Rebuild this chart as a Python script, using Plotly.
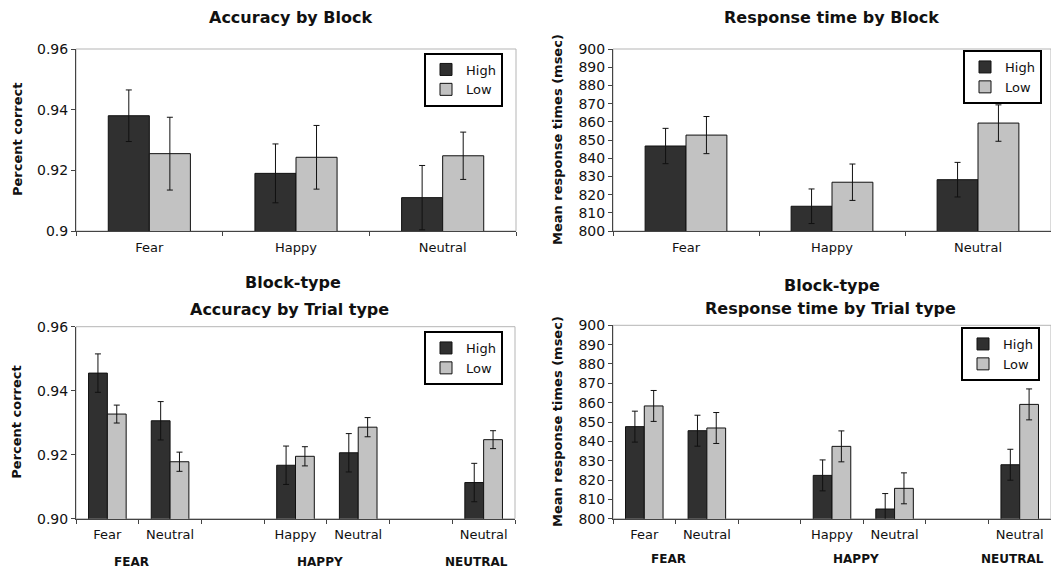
import plotly.graph_objects as go

# ---------------- data ----------------
block_categories = ["Fear", "Happy", "Neutral"]

acc_block_high = [0.938, 0.919, 0.911]
acc_block_low = [0.9255, 0.9243, 0.9248]
acc_block_high_err = [0.0085, 0.0097, 0.0106]
acc_block_low_err = [0.0120, 0.0105, 0.0078]

rt_block_high = [846.7, 813.6, 828.2]
rt_block_low = [852.7, 826.8, 859.3]
rt_block_high_err = [9.7, 9.5, 9.5]
rt_block_low_err = [10.2, 10.0, 10.0]

trial_block = ["FEAR", "FEAR", "HAPPY", "HAPPY", "NEUTRAL"]
trial_type = ["Fear", "Neutral", "Happy", "Neutral", "Neutral"]

acc_trial_high = [0.9455, 0.9306, 0.9167, 0.9206, 0.9113]
acc_trial_low = [0.9327, 0.9178, 0.9195, 0.9286, 0.9247]
acc_trial_high_err = [0.0060, 0.0060, 0.0060, 0.0060, 0.0060]
acc_trial_low_err = [0.0028, 0.0030, 0.0030, 0.0030, 0.0028]

rt_trial_high = [847.6, 845.5, 822.4, 805.0, 827.9]
rt_trial_low = [858.3, 846.9, 837.4, 815.7, 859.1]
rt_trial_high_err = [8.0, 8.0, 8.0, 8.0, 8.0]
rt_trial_low_err = [8.0, 8.0, 8.0, 8.0, 8.0]

series_names = ["High", "Low"]

# ---------------- styles ----------------
FONT = "DejaVu Sans"
TXT = "#111111"
AXIS = "#444444"
FRAME = "#b5b5b5"
C_HIGH = "#303030"
C_LOW = "#c2c2c2"

# slots for trial-type panels (with empty spacer slot between block groups)
slots, slot_labels = [], []
for b in dict.fromkeys(trial_block):
    if slots:
        slots.append("gap-" + b)
        slot_labels.append("")
    for bt, tt in zip(trial_block, trial_type):
        if bt == b:
            slots.append(bt + "|" + tt)
            slot_labels.append(tt)
trial_keys = [b + "|" + t for b, t in zip(trial_block, trial_type)]

fig = go.Figure()


def add_pair(x, hi, lo, hi_err, lo_err, xa, ya, leg, w):
    for name, vals, errs, col, off in [
        (series_names[0], hi, hi_err, C_HIGH, -w),
        (series_names[1], lo, lo_err, C_LOW, 0.0),
    ]:
        fig.add_trace(go.Bar(
            x=x, y=vals, name=name, xaxis=xa, yaxis=ya, legend=leg,
            width=w, offset=off,
            marker=dict(color=col, line=dict(color="#111111", width=1)),
            error_y=dict(type="data", array=errs, color="#111111",
                         thickness=1, width=3),
        ))


add_pair(block_categories, acc_block_high, acc_block_low,
         acc_block_high_err, acc_block_low_err, "x", "y", "legend", 0.28)
add_pair(block_categories, rt_block_high, rt_block_low,
         rt_block_high_err, rt_block_low_err, "x2", "y2", "legend2", 0.28)
add_pair(trial_keys, acc_trial_high, acc_trial_low,
         acc_trial_high_err, acc_trial_low_err, "x3", "y3", "legend3", 0.30)
add_pair(trial_keys, rt_trial_high, rt_trial_low,
         rt_trial_high_err, rt_trial_low_err, "x4", "y4", "legend4", 0.30)

W, H = 1051, 570
px = lambda v: v / W
py = lambda v: 1 - v / H

dom = {
    1: ([px(76), px(516)], [py(231), py(49)]),
    2: ([px(613), 1.0], [py(231), py(49)]),
    3: ([px(76), px(515)], [py(518.7), py(326.7)]),
    4: ([px(613), 1.0], [py(518.7), py(325.3)]),
}

xbase = dict(type="category", showline=True, linecolor=AXIS, linewidth=1,
             ticks="outside", ticklen=4, tickcolor=AXIS, tickson="boundaries",
             showgrid=False, zeroline=False, fixedrange=True, automargin=False,
             ticklabelstandoff=4,
             tickfont=dict(family=FONT, size=13, color=TXT))
ybase = dict(showline=True, linecolor=AXIS, linewidth=1, ticks="outside",
             ticklen=4, tickcolor=AXIS, showgrid=False, zeroline=False,
             fixedrange=True, automargin=False,
             tickfont=dict(family=FONT, size=14, color=TXT))

layout = dict(
    template="none",
    width=W, height=H, margin=dict(l=0, r=0, t=0, b=0, pad=0),
    autosize=False,
    paper_bgcolor="white", plot_bgcolor="white", barmode="overlay",
    font=dict(family=FONT, color=TXT),
)
for i in range(1, 5):
    sx = "" if i == 1 else str(i)
    xd, yd = dom[i]
    xa = dict(xbase, domain=xd, anchor="y" + sx)
    ya = dict(ybase, domain=yd, anchor="x" + sx)
    if i in (1, 2):
        xa.update(categoryarray=block_categories, categoryorder="array")
    else:
        xa.update(categoryarray=slots, categoryorder="array",
                  tickmode="array", tickvals=slots, ticktext=slot_labels,
                  range=[-0.5, len(slots) - 0.5])
    if i in (1, 3):
        ya.update(range=[0.9, 0.96], dtick=0.02, tick0=0.9)
        if i == 3:
            ya.update(tickformat=".2f")
    else:
        ya.update(range=[800, 900], dtick=10, tick0=800)
    layout["xaxis" + sx] = xa
    layout["yaxis" + sx] = ya

leg_style = dict(bgcolor="white", bordercolor="#000000", borderwidth=2,
                 font=dict(family=FONT, size=13, color=TXT),
                 xanchor="right", yanchor="middle", itemwidth=30,
                 tracegroupgap=0)
layout["legend"] = dict(leg_style, x=px(503), y=py(79.5))
layout["legend2"] = dict(leg_style, x=px(1042), y=py(77))
layout["legend3"] = dict(leg_style, x=px(503), y=py(358))
layout["legend4"] = dict(leg_style, x=px(1040), y=py(354))

fig.update_layout(**layout)

# frame (light gray box) around each plot area
for i in range(1, 5):
    sx = "" if i == 1 else str(i)
    fig.add_shape(type="rect", xref="x" + sx + " domain", yref="y" + sx + " domain",
                  x0=0, x1=1, y0=0, y1=1, line=dict(color=FRAME, width=1),
                  layer="below")

title_font = dict(family=FONT, size=16, color=TXT)
titles = [
    ("<b>Accuracy by Block</b>", 291, 18),
    ("<b>Response time by Block</b>", 831, 18),
    ("<b>Block-type</b>", 293, 282),
    ("<b>Accuracy by Trial type</b>", 289, 309),
    ("<b>Block-type</b>", 832, 285),
    ("<b>Response time by Trial type</b>", 830, 308),
]
for t, x, y in titles:
    fig.add_annotation(text=t, x=px(x), y=py(y), xref="paper", yref="paper",
                       xanchor="center", yanchor="middle", showarrow=False,
                       font=title_font)

ytitle_font = dict(family=FONT, size=13, color=TXT)
for t, x, i in [("<b>Percent correct</b>", 17, 1),
                ("<b>Mean response times (msec)</b>", 557, 2),
                ("<b>Percent correct</b>", 17, 3),
                ("<b>Mean response times (msec)</b>", 557, 4)]:
    yd = dom[i][1]
    fig.add_annotation(text=t, x=px(x), y=(yd[0] + yd[1]) / 2, xref="paper",
                       yref="paper", xanchor="center", yanchor="middle",
                       textangle=-90, showarrow=False, font=ytitle_font)

# block-group labels under the trial-type panels
for xa_name, ylab in [("x3", 562), ("x4", 559)]:
    for b in dict.fromkeys(trial_block):
        idx = [slots.index(k) for k in trial_keys if k.startswith(b + "|")]
        fig.add_annotation(text="<b>" + b + "</b>", x=sum(idx) / len(idx),
                           xref=xa_name, y=py(ylab), yref="paper",
                           xanchor="center", yanchor="middle", xshift=-7,
                           showarrow=False,
                           font=dict(family=FONT, size=12, color=TXT))

fig.write_html("out.html",
               config={"displayModeBar": False},
               post_script="document.body.style.margin='0';"
                           "document.body.style.overflow='hidden';")
